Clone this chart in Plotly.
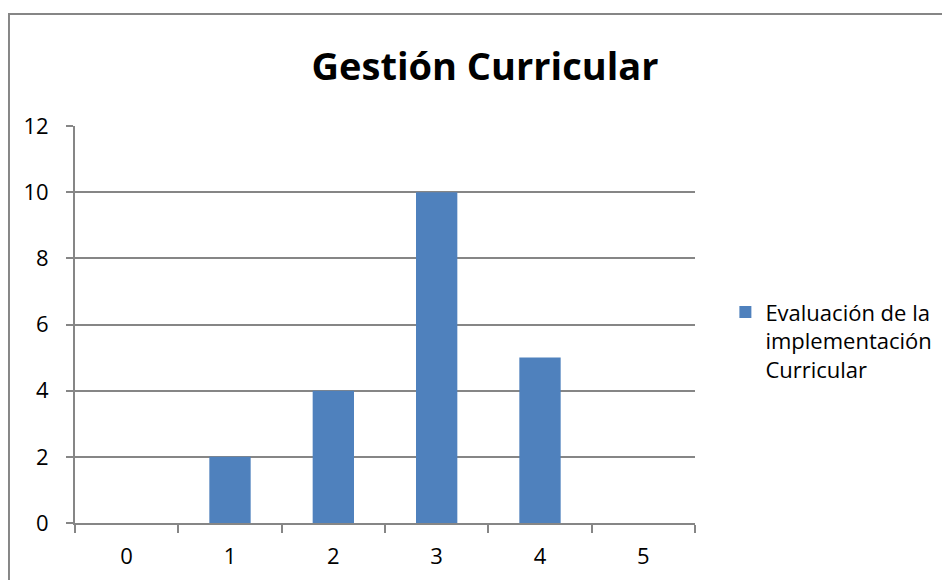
import plotly.graph_objects as go

categorias = ["0", "1", "2", "3", "4", "5"]
valores = [0, 2, 4, 10, 5, 0]
serie = "Evaluación de la<br>implementación<br>Curricular"
titulo = "Gestión Curricular"

GRIS = "#868686"
AZUL = "#4F81BD"
FUENTE = "'Open Sans', Calibri, sans-serif"

fig = go.Figure()

fig.add_trace(go.Bar(
    x=categorias,
    y=valores,
    name=serie,
    marker=dict(color=AZUL, line=dict(width=0)),
    width=0.4,
    showlegend=True,
))

# marco exterior del gráfico (se sale de la imagen por la derecha y abajo)
fig.add_shape(
    type="rect", xref="paper", yref="paper",
    x0=-0.1065, x1=1.45, y0=-0.2, y1=1.282,
    line=dict(color=GRIS, width=2), fillcolor="rgba(0,0,0,0)",
    layer="below",
)

fig.update_layout(
    width=950,
    height=580,
    margin=dict(l=67, r=263, t=118, b=65),
    paper_bgcolor="white",
    plot_bgcolor="white",
    font=dict(family=FUENTE, size=22, color="black"),
    title=dict(
        text="<b>" + titulo + "</b>",
        font=dict(family=FUENTE, size=38, color="black"),
        x=477 / 950, xanchor="center",
        y=1 - 59 / 580, yanchor="middle",
    ),
    legend=dict(
        x=1.049, xanchor="left",
        y=0.584, yanchor="top",
        valign="top",
        font=dict(family=FUENTE, size=22, color="black"),
        bgcolor="rgba(0,0,0,0)",
        itemwidth=30,
        tracegroupgap=0,
    ),
    xaxis=dict(
        type="category",
        range=[-0.5, 5.5],
        showgrid=False,
        showline=True,
        linecolor=GRIS,
        linewidth=2,
        ticks="outside",
        tickson="boundaries",
        ticklen=8,
        tickwidth=2,
        tickcolor=GRIS,
        ticklabelstandoff=13,
        zeroline=False,
    ),
    yaxis=dict(
        range=[0, 12],
        dtick=2,
        tick0=0,
        showgrid=True,
        gridcolor=GRIS,
        gridwidth=2,
        showline=True,
        linecolor=GRIS,
        linewidth=2,
        ticks="outside",
        ticklen=7,
        tickwidth=2,
        tickcolor=GRIS,
        ticklabelstandoff=13,
        zeroline=False,
    ),
)

fig.write_html("out.html")
